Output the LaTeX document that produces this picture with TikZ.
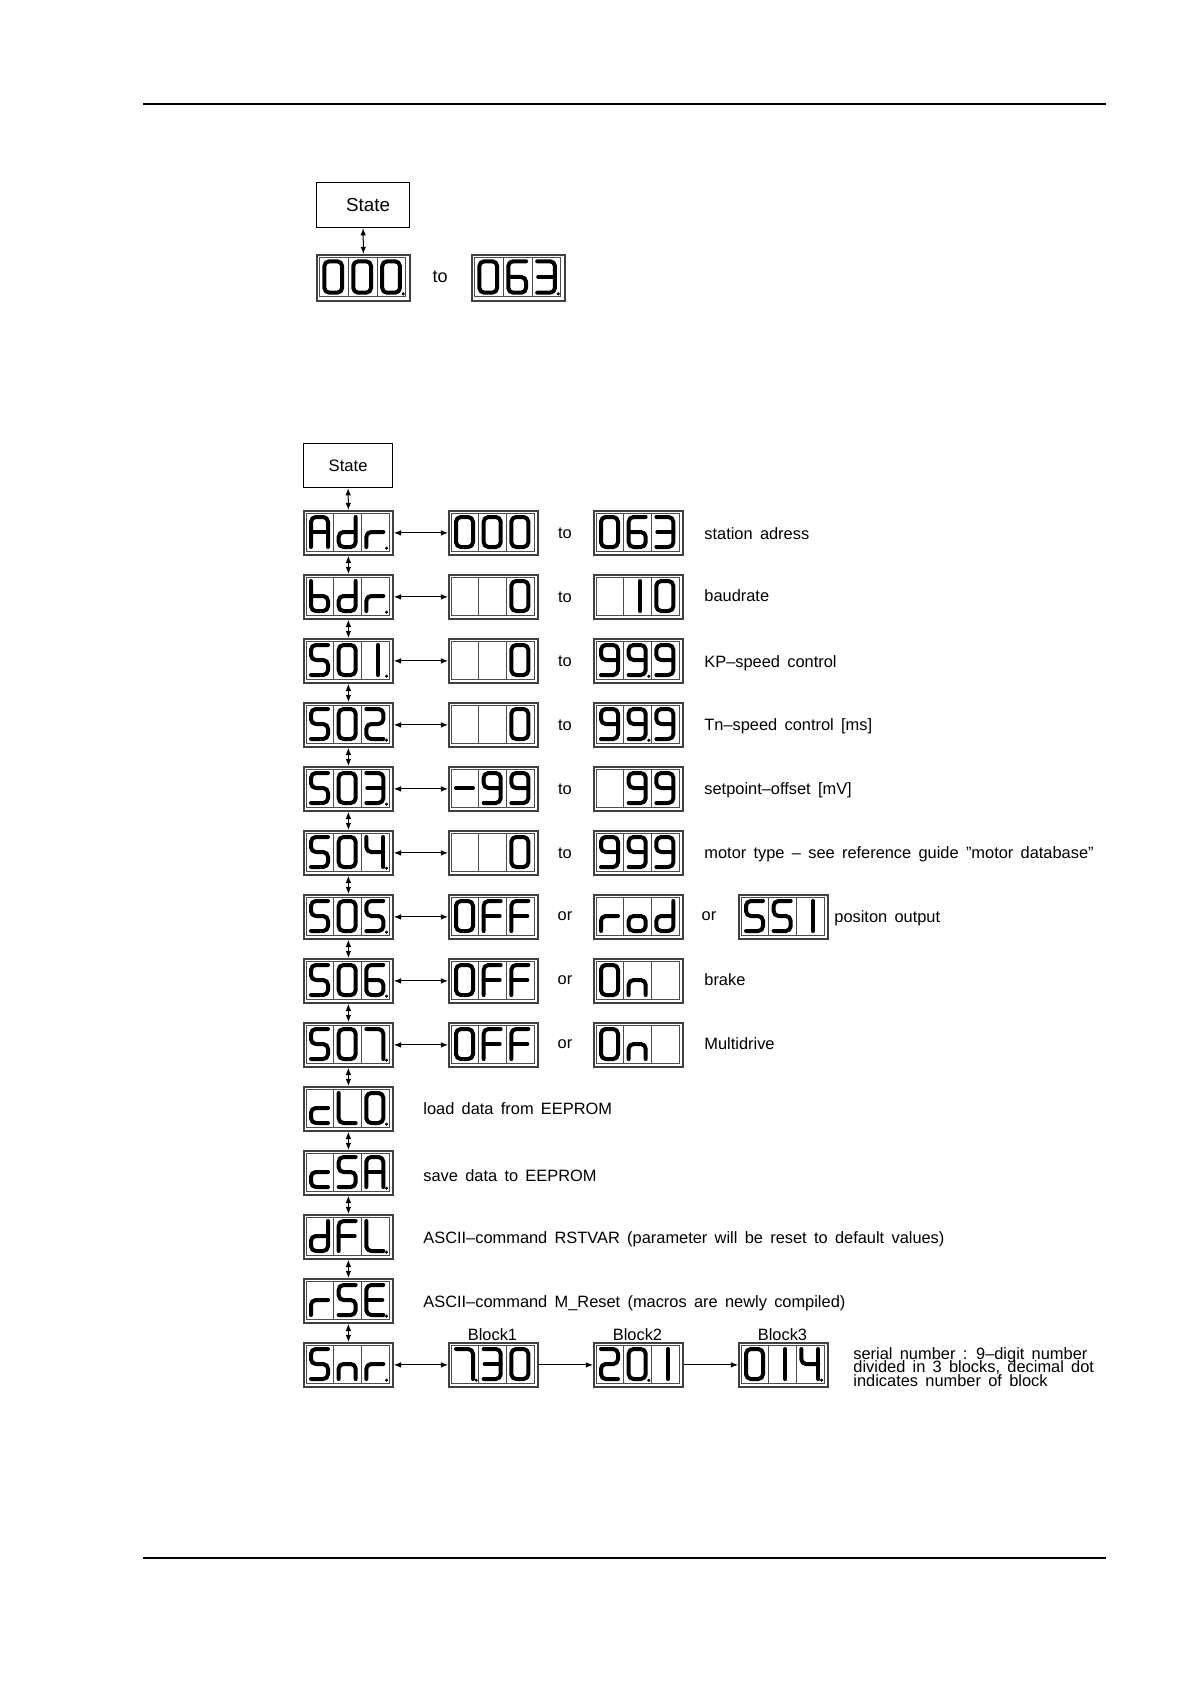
\documentclass[tikz,border=0pt]{standalone}
\usepackage{fontspec}
\setmainfont{Liberation Sans}[WordSpace=1.6]
\usetikzlibrary{arrows.meta}
% seven-segment characters, relative to a cell origin (cell 27.67 x 38 px)
% L=5 R=22 T=4 M=19 B=34
\newcommand\CHzero{\draw[sg] (5,4) rectangle (22,34);}
\newcommand\CHone{\draw[sg] (16.5,4) -- (16.5,34);}
\newcommand\CHtwo{\draw[sg] (5,4) -- (22,4) -- (22,19) -- (5,19) -- (5,34) -- (22,34);}
\newcommand\CHthree{\draw[sg] (5,4) -- (22,4) -- (22,34) -- (5,34); \draw[sg] (6,19) -- (22,19);}
\newcommand\CHfour{\draw[sg] (5,4) -- (5,19) -- (22,19); \draw[sg] (22,4) -- (22,34);}
\newcommand\CHfive{\draw[sg] (22,4) -- (5,4) -- (5,19) -- (22,19) -- (22,34) -- (5,34);}
\newcommand\CHsix{\draw[sg] (22,4) -- (5,4) -- (5,34) -- (22,34) -- (22,19) -- (5,19);}
\newcommand\CHseven{\draw[sg] (5,4) -- (22,4) -- (22,34);}
\newcommand\CHnine{\draw[sg] (22,19) -- (5,19) -- (5,4) -- (22,4) -- (22,34) -- (5,34);}
\newcommand\CHA{\draw[sg] (5,34) -- (5,4) -- (22,4) -- (22,34); \draw[sg] (5,19) -- (22,19);}
\newcommand\CHd{\draw[sg] (22,4) -- (22,34) -- (5,34) -- (5,19) -- (22,19);}
\newcommand\CHr{\draw[sg] (5,34) -- (5,19) -- (22,19);}
\newcommand\CHb{\draw[sg] (5,4) -- (5,34) -- (22,34) -- (22,19) -- (5,19);}
\newcommand\CHF{\draw[sg] (22,4) -- (5,4) -- (5,34); \draw[sg] (5,19) -- (21,19);}
\newcommand\CHo{\draw[sg] (5,19) rectangle (22,34);}
\newcommand\CHn{\draw[sg] (5,34) -- (5,19) -- (22,19) -- (22,34);}
\newcommand\CHc{\draw[sg] (22,19) -- (5,19) -- (5,34) -- (22,34);}
\newcommand\CHL{\draw[sg] (5,4) -- (5,34) -- (22,34);}
\newcommand\CHE{\draw[sg] (22,4) -- (5,4) -- (5,34) -- (22,34); \draw[sg] (5,19) -- (21,19);}
\newcommand\CHminus{\draw[sg] (5,19) -- (22,19);}
\newcommand\CHdot{\fill (25.2,35.2) circle (1.7);}
% display: [scale]{name}{top-left}{cell1}{cell2}{cell3}
\newcommand\disp[6][1]{%
  \node[dispbox, minimum width=#1*44.5pt, minimum height=#1*22pt, anchor=north west] (#2) at (#3) {};
  \begin{scope}[shift={(#2.north west)}, scale=#1]
    \draw[dispin] (3,3) rectangle (86,41);
    \draw[dispin] (30.67,3) -- (30.67,41) (58.33,3) -- (58.33,41);
    \begin{scope}[shift={(3,3)}]\foreach \s in {#4}{\csname CH\s\endcsname}\end{scope}
    \begin{scope}[shift={(30.67,3)}]\foreach \s in {#5}{\csname CH\s\endcsname}\end{scope}
    \begin{scope}[shift={(58.33,3)}]\foreach \s in {#6}{\csname CH\s\endcsname}\end{scope}
  \end{scope}}
\tikzset{
  sg/.style={line width=2pt, line cap=round, line join=round, rounded corners=2.4pt},
  dispbox/.style={draw=black!75, line width=0.9pt, inner sep=0pt, fill=white},
  dispin/.style={draw=black!70, line width=0.45pt},
  statebox/.style={draw, line width=0.6pt, inner sep=0pt, anchor=north west},
  lbl/.style={inner sep=0pt, font=\fontsize{8.2}{10}\selectfont, anchor=west},
  conj/.style={inner sep=0pt, font=\fontsize{8.2}{10}\selectfont},
  biarrow/.style={{Latex[length=3.6pt,width=2.8pt]}-{Latex[length=3.6pt,width=2.8pt]}, line width=0.5pt},
  onearrow/.style={-{Latex[length=3.6pt,width=2.8pt]}, line width=0.5pt},
  rule/.style={line width=0.8pt}
}
\begin{document}
\begin{tikzpicture}[x=0.5pt,y=-0.5pt]
\useasboundingbox (0,0) rectangle (1191,1684);
% page rules
\coordinate (tl) at (143,104); \coordinate (tr) at (1106,104);
\coordinate (bl) at (143,1558); \coordinate (br) at (1106,1558);
\draw[rule] (tl) -- (tr);
\draw[rule] (bl) -- (br);

% ---------- top section ----------
\node[statebox, minimum width=46.5pt, minimum height=22.5pt, font=\fontsize{9.4}{11}\selectfont] (tstate) at (316,182) {\hspace{5pt}State};
\disp[1.045]{tlo}{316,254}{zero}{zero}{zero,dot}
\node[conj, font=\fontsize{9}{11}\selectfont] (tto) at (440,277) {to};
\disp[1.045]{thi}{471,254}{zero}{six}{three,dot}
\draw[biarrow] (tstate.south) -- (tlo.north);

% ---------- menu ----------
\node[statebox, minimum width=44.5pt, minimum height=22pt, font=\fontsize{8.3}{10}\selectfont] (state) at (303,443) {State};

% left column
\disp{adr}{303,510}{A}{d}{r,dot}
\disp{bdr}{303,574}{b}{d}{r,dot}
\disp{s01}{303,638}{five}{zero}{one,dot}
\disp{s02}{303,702}{five}{zero}{two,dot}
\disp{s03}{303,766}{five}{zero}{three,dot}
\disp{s04}{303,830}{five}{zero}{four,dot}
\disp{s05}{303,894}{five}{zero}{five,dot}
\disp{s06}{303,958}{five}{zero}{six,dot}
\disp{s07}{303,1022}{five}{zero}{seven,dot}
\disp{clo}{303,1086}{c}{L}{zero,dot}
\disp{csa}{303,1150}{c}{five}{A,dot}
\disp{dfl}{303,1214}{d}{F}{L,dot}
\disp{rse}{303,1278}{r}{five}{E,dot}
\disp{snr}{303,1342}{five}{n}{r,dot}

% middle column
\disp{adrA}{448,510}{zero}{zero}{zero}
\disp{bdrA}{448,574}{}{}{zero}
\disp{s01A}{448,638}{}{}{zero}
\disp{s02A}{448,702}{}{}{zero}
\disp{s03A}{448,766}{minus}{nine}{nine}
\disp{s04A}{448,830}{}{}{zero}
\disp{s05A}{448,894}{zero}{F}{F}
\disp{s06A}{448,958}{zero}{F}{F}
\disp{s07A}{448,1022}{zero}{F}{F}
\disp{blk1}{448,1342}{seven,dot}{three}{zero}

% right column
\disp{adrB}{593,510}{zero}{six}{three}
\disp{bdrB}{593,574}{}{one}{zero}
\disp{s01B}{593,638}{nine}{nine,dot}{nine}
\disp{s02B}{593,702}{nine}{nine,dot}{nine}
\disp{s03B}{593,766}{}{nine}{nine}
\disp{s04B}{593,830}{nine}{nine}{nine}
\disp{s05B}{593,894}{r}{o}{d}
\disp{s06B}{593,958}{zero}{n}{}
\disp{s07B}{593,1022}{zero}{n}{}
\disp{blk2}{593,1342}{two}{zero,dot}{one}

% far right
\disp{s05C}{738,894}{five}{five}{one}
\disp{blk3}{738,1342}{zero}{one}{four,dot}

% vertical connectors
\draw[biarrow] (state.south) -- (adr.north);
\draw[biarrow] (adr.south) -- (bdr.north);
\draw[biarrow] (bdr.south) -- (s01.north);
\draw[biarrow] (s01.south) -- (s02.north);
\draw[biarrow] (s02.south) -- (s03.north);
\draw[biarrow] (s03.south) -- (s04.north);
\draw[biarrow] (s04.south) -- (s05.north);
\draw[biarrow] (s05.south) -- (s06.north);
\draw[biarrow] (s06.south) -- (s07.north);
\draw[biarrow] (s07.south) -- (clo.north);
\draw[biarrow] (clo.south) -- (csa.north);
\draw[biarrow] (csa.south) -- (dfl.north);
\draw[biarrow] (dfl.south) -- (rse.north);
\draw[biarrow] (rse.south) -- (snr.north);

% horizontal connectors
\draw[biarrow] (adr.east) -- (adrA.west);
\draw[biarrow] (bdr.east) -- (bdrA.west);
\draw[biarrow] (s01.east) -- (s01A.west);
\draw[biarrow] (s02.east) -- (s02A.west);
\draw[biarrow] (s03.east) -- (s03A.west);
\draw[biarrow] (s04.east) -- (s04A.west);
\draw[biarrow] (s05.east) -- (s05A.west);
\draw[biarrow] (s06.east) -- (s06A.west);
\draw[biarrow] (s07.east) -- (s07A.west);
\draw[biarrow] (snr.east) -- (blk1.west);
\draw[onearrow] (blk1.east) -- (blk2.west);
\draw[onearrow] (blk2.east) -- (blk3.west);

% conjunctions
\node[conj] (c1) at (565,533) {to};
\node[conj] (c2) at (565,597) {to};
\node[conj] (c3) at (565,661) {to};
\node[conj] (c4) at (565,725) {to};
\node[conj] (c5) at (565,789) {to};
\node[conj] (c6) at (565,853) {to};
\node[conj] (c7) at (565,916) {or};
\node[conj] (c7b) at (709,916) {or};
\node[conj] (c8) at (565,980) {or};
\node[conj] (c9) at (565,1044) {or};

% descriptions
\node[lbl] (d1) at (704,534) {station adress};
\node[lbl] (d2) at (704,596) {baudrate};
\node[lbl] (d3) at (704,663) {KP–speed control};
\node[lbl] (d4) at (704,726) {Tn–speed control [ms]};
\node[lbl] (d5) at (704,790) {setpoint–offset [mV]};
\node[lbl] (d6) at (704,854) {motor type – see reference guide "motor database"};
\node[lbl] (d7) at (834,918) {positon output};
\node[lbl] (d8) at (704,980) {brake};
\node[lbl] (d9) at (704,1044) {Multidrive};
\node[lbl] (d10) at (423,1109) {load data from EEPROM};
\node[lbl] (d11) at (423,1176) {save data to EEPROM};
\node[lbl] (d12) at (423,1239) {ASCII–command RSTVAR (parameter will be reset to default values)};
\node[lbl] (d13) at (423,1303) {ASCII–command M\_Reset (macros are newly compiled)};
\node[conj] (b1) at (492.5,1335) {Block1};
\node[conj] (b2) at (637.5,1335) {Block2};
\node[conj] (b3) at (782.5,1335) {Block3};
\node[lbl, align=left, font={\fontsize{8.2}{6.7}\selectfont\lineskiplimit=-20pt}] (d14) at (853,1367)
  {serial number : 9–digit number\\divided in 3 blocks, decimal dot\\indicates number of block};
\end{tikzpicture}
\end{document}
